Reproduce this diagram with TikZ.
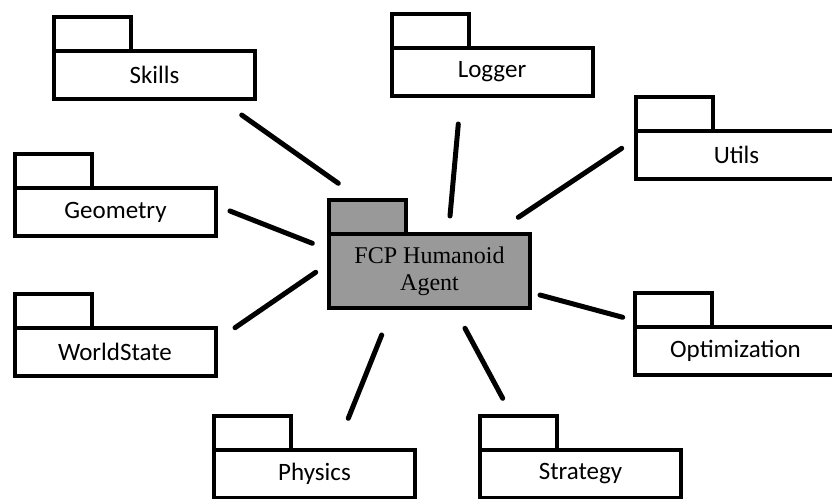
\documentclass[tikz,border=0pt]{standalone}
\usepackage{fontspec}
\usepackage{tkz-euclide}
\setmainfont{Carlito}
\newfontfamily\agentfont{Liberation Serif}
\definecolor{pkggray}{RGB}{153,153,153}

\begin{document}
\begin{tikzpicture}[x=1pt,y=-1pt,
  pkg/.style={draw,line width=4pt,minimum width=201pt,minimum height=48pt,
    inner sep=0pt,outer sep=0pt,font=\fontsize{25}{30}\selectfont},
  tab/.style={draw,line width=4pt,minimum width=77pt,minimum height=34pt,
    inner sep=0pt,outer sep=0pt,anchor=south west}]
  \useasboundingbox (0,0) rectangle (832,498);
  \node[pkg] (skills) at (154.5,74.5) {Skills};
  \node[tab] (skillstab) at (skills.north west) {};
  \node[pkg] (logger) at (492,72) {Logger};
  \node[tab] (loggertab) at (logger.north west) {};
  \node[pkg] (utils) at (736.5,154.5) {Utils};
  \node[tab] (utilstab) at (utils.north west) {};
  \node[pkg] (geometry) at (115.5,212) {Geometry};
  \node[tab] (geometrytab) at (geometry.north west) {};
  \node[pkg,fill=pkggray,minimum height=74pt,align=center,
    font=\agentfont\fontsize{24}{27}\selectfont] (agent) at (429.5,271) {FCP Humanoid\\Agent};
  \node[tab,fill=pkggray] (agenttab) at (agent.north west) {};
  \node[pkg] (worldstate) at (115,352) {WorldState};
  \node[tab] (worldstatetab) at (worldstate.north west) {};
  \node[pkg] (optimization) at (735.5,350.5) {Optimization};
  \node[tab] (optimizationtab) at (optimization.north west) {};
  \node[pkg] (physics) at (314.5,474) {Physics};
  \node[tab] (physicstab) at (physics.north west) {};
  \node[pkg] (strategy) at (580.5,474) {Strategy};
  \node[tab] (strategytab) at (strategy.north west) {};
  \tkzDefPoint(241.7,115){S}
  \tkzDefPoint(338.3,183.3){Sa}
  \tkzDefPoint(458.3,124){L}
  \tkzDefPoint(450,216){La}
  \tkzDefPoint(621.7,148.3){U}
  \tkzDefPoint(518.3,217.3){Ua}
  \tkzDefPoint(230,211){G}
  \tkzDefPoint(312.3,243.3){Ga}
  \tkzDefPoint(235,327.7){W}
  \tkzDefPoint(315.7,272.3){Wa}
  \tkzDefPoint(622.7,317.3){O}
  \tkzDefPoint(540,295){Oa}
  \tkzDefPoint(348.3,418.3){P}
  \tkzDefPoint(381.7,335){Pa}
  \tkzDefPoint(502.7,398.3){T}
  \tkzDefPoint(465,328.3){Ta}
  \tkzDrawSegments[color=black,line width=5pt,line cap=round](S,Sa L,La U,Ua G,Ga W,Wa O,Oa P,Pa T,Ta)
\end{tikzpicture}
\end{document}
